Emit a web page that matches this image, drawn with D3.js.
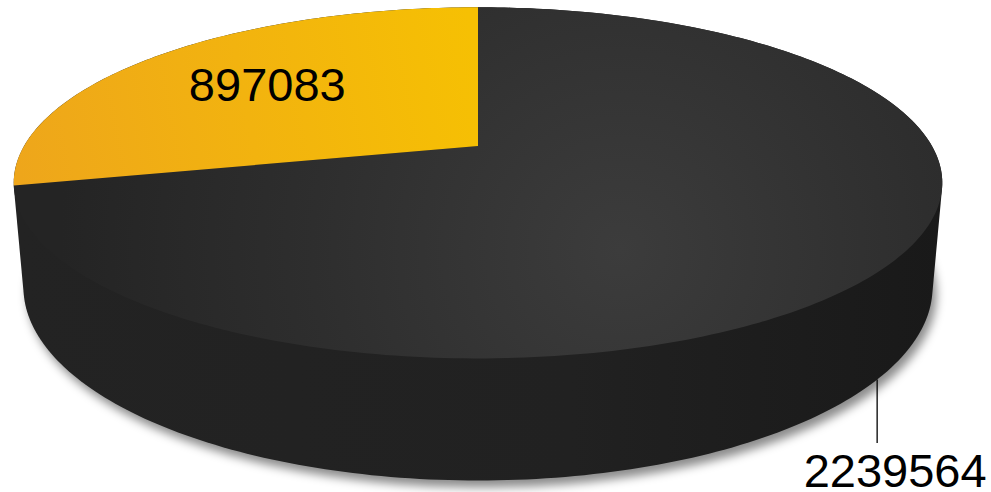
<!DOCTYPE html>
<html>
<head>
<meta charset="utf-8">
<script src="https://cdn.jsdelivr.net/npm/d3@7"></script>
<style>
  html, body { margin: 0; padding: 0; background: #fff; }
  svg { display: block; }
  text { font-family: "Liberation Sans", Arial, sans-serif; }
</style>
</head>
<body>
<div id="chart"></div>
<script>
// slice data (clockwise from 12 o'clock)
var sliceNames = ["Dark", "Yellow"];
var sliceValues = [2239564, 897083];
var sliceColors = ["dark", "yellow"];

var W = 991, H = 492;

/**
 * perspective settings for the tilted disc
 */
var cx = 478, cy = 146,
    focal = 2011, dist = 4.43,
    tilt = 21.7 * Math.PI / 180,
    thick = 0.245;
var s = Math.sin(tilt), c = Math.cos(tilt);

// angle a (radians, clockwise from top), radius r (0..1), depth d (0 = top face)
function proj(a, r, d) {
    var u = r * Math.sin(a), v = -r * Math.cos(a);
    var yc = v * s + d * c,
        zc = dist - v * c + d * s;
    return [cx + focal * u / zc, cy + focal * yc / zc];
}

var svg = d3.select("#chart").append("svg")
    .attr("width", W)
    .attr("height", H);

var defs = svg.append("defs");

defs.append("filter").attr("id", "blur")
    .attr("x", "-10%").attr("y", "-10%").attr("width", "120%").attr("height", "130%")
    .append("feGaussianBlur").attr("stdDeviation", 5);

var gTop = defs.append("radialGradient").attr("id", "darkTop")
    .attr("gradientUnits", "userSpaceOnUse")
    .attr("cx", 620).attr("cy", 250).attr("r", 560);
gTop.append("stop").attr("offset", "0%").attr("stop-color", "#3c3c3c");
gTop.append("stop").attr("offset", "55%").attr("stop-color", "#2e2e2e");
gTop.append("stop").attr("offset", "100%").attr("stop-color", "#242424");

var gYel = defs.append("linearGradient").attr("id", "yellowTop")
    .attr("gradientUnits", "userSpaceOnUse")
    .attr("x1", 14).attr("y1", 150).attr("x2", 478).attr("y2", 60);
gYel.append("stop").attr("offset", "0%").attr("stop-color", "#eea61b");
gYel.append("stop").attr("offset", "100%").attr("stop-color", "#f6c003");

var gSide = defs.append("linearGradient").attr("id", "side")
    .attr("gradientUnits", "userSpaceOnUse")
    .attr("x1", 14).attr("y1", 0).attr("x2", 943).attr("y2", 0);
gSide.append("stop").attr("offset", "0%").attr("stop-color", "#232323");
gSide.append("stop").attr("offset", "60%").attr("stop-color", "#212121");
gSide.append("stop").attr("offset", "100%").attr("stop-color", "#191919");

var fills = { dark: "url(#darkTop)", yellow: "url(#yellowTop)" };

var pie = d3.pie().sort(null).value(function(d) { return d; });
var arcs = pie(sliceValues);

/**
 * shadow and side wall
 */
var pts = [];
for (var i = 0; i < 360; i++) {
    var a = i * Math.PI / 180;
    pts.push(proj(a, 1, 0));
    pts.push(proj(a, 1, thick));
}
var hull = d3.polygonHull(pts);

var bottom = d3.range(0, 361).map(function(i) { return proj(i * Math.PI / 180, 1, thick); });
svg.append("path")
    .attr("d", d3.line()(bottom) + "Z")
    .attr("transform", "translate(4,7)")
    .attr("fill", "rgba(0,0,0,0.45)")
    .attr("filter", "url(#blur)");

svg.append("path")
    .attr("d", d3.line()(hull) + "Z")
    .attr("fill", "url(#side)");

/**
 * top faces of the slices
 */
svg.append("g").selectAll("path")
    .data(arcs)
    .join("path")
    .attr("d", function(d) {
        var p = [proj(0, 0, 0)];
        var n = Math.max(2, Math.ceil((d.endAngle - d.startAngle) * 180 / Math.PI));
        for (var k = 0; k <= n; k++) {
            p.push(proj(d.startAngle + (d.endAngle - d.startAngle) * k / n, 1, 0));
        }
        return d3.line()(p) + "Z";
    })
    .attr("fill", function(d, i) { return fills[sliceColors[i]]; });

/**
 * labels
 */
// yellow slice: label on the face
var yArc = arcs[1];
var yMid = (yArc.startAngle + yArc.endAngle) / 2;
var yPos = proj(yMid, 0.62, 0);
svg.append("text")
    .attr("x", yPos[0] - 7)
    .attr("y", yPos[1] + 15)
    .attr("text-anchor", "middle")
    .attr("font-size", 47)
    .attr("fill", "#000")
    .text(sliceValues[1]);

// dark slice: leader line from the lower rim
var dArc = arcs[0];
var dMid = (dArc.startAngle + dArc.endAngle) / 2;
var dPos = proj(dMid, 1, thick);
svg.append("line")
    .attr("x1", dPos[0]).attr("y1", dPos[1])
    .attr("x2", dPos[0]).attr("y2", 443)
    .attr("stroke", "#000")
    .attr("stroke-width", 1.3);
svg.append("text")
    .attr("x", dPos[0] + 18)
    .attr("y", 487)
    .attr("text-anchor", "middle")
    .attr("font-size", 47)
    .attr("fill", "#000")
    .text(sliceValues[0]);
</script>
</body>
</html>
